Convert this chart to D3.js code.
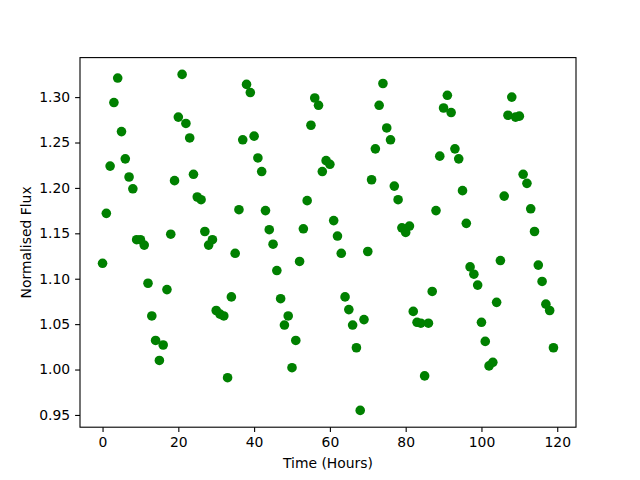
<!DOCTYPE html>
<html>
<head>
<meta charset="utf-8">
<script src="https://cdn.jsdelivr.net/npm/d3@7"></script>
<style>
  body { margin: 0; background: #fff; }
  svg text { font-family: "DejaVu Sans", sans-serif; }
</style>
</head>
<body>
<div id="chart"></div>
<script>
// hours 0..119, one reading per hour
const hours = d3.range(0, 120);
const flux = [
  1.117, 1.172, 1.224, 1.294, 1.321, 1.262, 1.232, 1.212, 1.199, 1.143,
  1.143, 1.137, 1.095, 1.059, 1.032, 1.010, 1.027, 1.088, 1.149, 1.208,
  1.278, 1.325, 1.271, 1.255, 1.215, 1.190, 1.187, 1.152, 1.137, 1.143,
  1.065, 1.061, 1.059, 0.991, 1.080, 1.128, 1.176, 1.253, 1.314, 1.305,
  1.257, 1.233, 1.218, 1.175, 1.154, 1.138, 1.109, 1.078, 1.049, 1.059,
  1.002, 1.032, 1.119, 1.155, 1.186, 1.269, 1.299, 1.291, 1.218, 1.230,
  1.226, 1.164, 1.147, 1.128, 1.080, 1.066, 1.049, 1.024, 0.955, 1.055,
  1.130, 1.209, 1.243, 1.291, 1.315, 1.266, 1.253, 1.202, 1.187, 1.156,
  1.151, 1.158, 1.064, 1.052, 1.051, 0.993, 1.051, 1.086, 1.175, 1.235,
  1.288, 1.302, 1.283, 1.243, 1.232, 1.197, 1.161, 1.113, 1.105, 1.093,
  1.052, 1.031, 1.004, 1.008, 1.074, 1.120, 1.191, 1.280, 1.300, 1.278,
  1.279, 1.215, 1.205, 1.177, 1.152, 1.115, 1.097, 1.072, 1.065, 1.024
];
const xTicks = [0, 20, 40, 60, 80, 100, 120];
const yTicks = [0.95, 1.00, 1.05, 1.10, 1.15, 1.20, 1.25, 1.30];

const width = 640, height = 480;
const margin = { top: 57.6, right: 64, bottom: 52.8, left: 80 };
const innerW = width - margin.left - margin.right;
const innerH = height - margin.top - margin.bottom;

const svg = d3.select('#chart').append('svg')
    .attr('width', width)
    .attr('height', height);

const g = svg.append('g')
    .attr('transform', `translate(${margin.left},${margin.top})`);

// matplotlib-style 5% padding around the data
const xMin = d3.min(hours), xMax = d3.max(hours);
const xPad = (xMax - xMin) * 0.05;
const yMin = d3.min(flux), yMax = d3.max(flux);
const yPad = (yMax - yMin) * 0.05;

const x = d3.scaleLinear()
    .domain([xMin - xPad, xMax + xPad])
    .range([0, innerW]);

const y = d3.scaleLinear()
    .domain([yMin - yPad, yMax + yPad])
    .range([innerH, 0]);

const xAxis = d3.axisBottom(x)
    .tickValues(xTicks)
    .tickSize(4.9)
    .tickPadding(4.9)
    .tickFormat(d3.format('d'));

const yAxis = d3.axisLeft(y)
    .tickValues(yTicks)
    .tickSize(4.9)
    .tickPadding(4.9)
    .tickFormat(d3.format('.2f'));

const gx = g.append('g')
    .attr('transform', `translate(0,${innerH})`)
    .call(xAxis);
const gy = g.append('g')
    .call(yAxis);

[gx, gy].forEach(a => {
    a.select('.domain').remove();
    a.selectAll('.tick line').attr('stroke', '#000').attr('stroke-width', 1.1);
    a.selectAll('.tick text')
        .attr('fill', '#000')
        .style('font-size', '13.9px');
});

g.selectAll('.dot')
    .data(hours)
    .enter().append('circle')
    .attr('class', 'dot')
    .attr('cx', (d) => x(d))
    .attr('cy', (d, i) => y(flux[i]))
    .attr('r', 4.8)
    .attr('fill', '#008000');

// frame
g.append('rect')
    .attr('width', innerW)
    .attr('height', innerH)
    .attr('fill', 'none')
    .attr('stroke', '#000')
    .attr('stroke-width', 1.1);

svg.append('text')
    .attr('x', margin.left + innerW / 2)
    .attr('y', 468)
    .attr('text-anchor', 'middle')
    .style('font-size', '13.9px')
    .text('Time (Hours)');

svg.append('text')
    .attr('transform', `translate(31,${margin.top + innerH / 2}) rotate(-90)`)
    .attr('text-anchor', 'middle')
    .style('font-size', '13.9px')
    .text('Normalised Flux');
</script>
</body>
</html>
